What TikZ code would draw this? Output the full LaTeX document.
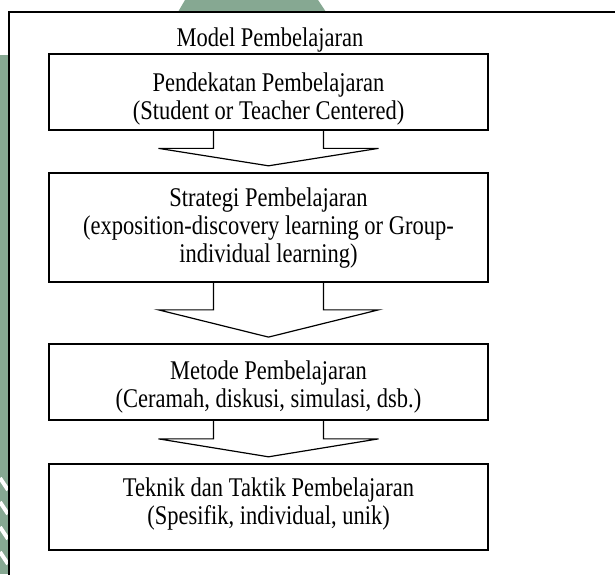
\documentclass[tikz,border=0pt]{standalone}
\usepackage{graphicx}
\usepackage{fontspec}
\setmainfont{Liberation Serif}
\usetikzlibrary{positioning, calc}

\definecolor{hijau}{RGB}{134,168,146}

% teks sedikit dipanjangkan ke atas
\newcommand{\baris}[1]{\scalebox{1}[1.2]{\begin{tabular}[t]{@{}c@{}}#1\end{tabular}}}

\tikzset{
	teks/.style={font=\fontsize{11.25}{11.67}\selectfont, inner sep=0pt, anchor=base},
	kotak/.style={teks, draw, line width=0.9pt, minimum width=219.5pt},
	panah/.style={draw, line width=0.6pt, line join=miter}
}

\begin{document}
\begin{tikzpicture}[x=0.5pt, y=-0.5pt]
	\useasboundingbox (0,0) rectangle (615,574);
	
	% latar hijau di tepi
	\fill[hijau] (0,55) rectangle (8,574);
	\foreach \y in {478,502,527,552}
		\draw[white, line width=2pt] (0,\y) -- (8,\y+12);
	\fill[hijau] (185,0) -- (318,0) -- (326,12) -- (178,12) -- cycle;
	
	% bingkai luar
	\draw[line width=1.35pt] (9,600) -- (9,12) -- (640,12);
	
	\node[teks] (model) at (270,46.7) {\baris{Model Pembelajaran}};
	
	\node[kotak, text height=18.5pt, text depth=19.5pt] (pend) at (268.5,91)
		{\baris{Pendekatan Pembelajaran\\(Student or Teacher Centered)}};
	\node[kotak, text height=17pt, text depth=37.5pt] (strat) at (268.5,206.7)
		{\baris{Strategi Pembelajaran\\(exposition-discovery learning or Group-\\individual learning)}};
	\node[kotak, text height=17.5pt, text depth=20.5pt] (met) at (268.5,379)
		{\baris{Metode Pembelajaran\\(Ceramah, diskusi, simulasi, dsb.)}};
	\node[kotak, text height=16.5pt, text depth=26.5pt] (tek) at (268.5,496.7)
		{\baris{Teknik dan Taktik Pembelajaran\\(Spesifik, individual, unik)}};
	
	% panah blok antar kotak
	\foreach \a/\b in {pend/strat, strat/met, met/tek}{
		\coordinate (ujung) at ($(\b.north)+(0,-6)$);
		\coordinate (bahu) at ($(\a.south)!0.5!(ujung)$);
		\draw[panah] ($(\a.south)+(-55,0)$) |- ($(bahu)+(-110,0)$)
			-- (ujung) -- ($(bahu)+(110,0)$) -| ($(\a.south)+(55,0)$);
	}
\end{tikzpicture}
\end{document}
